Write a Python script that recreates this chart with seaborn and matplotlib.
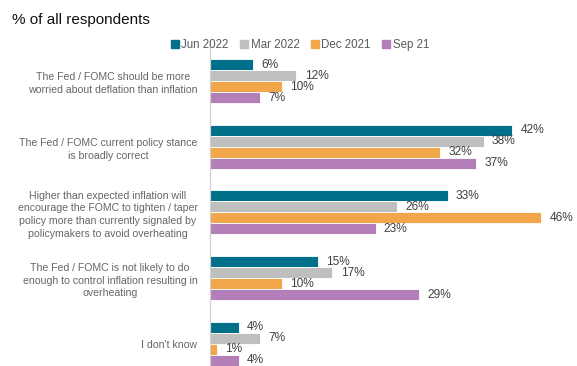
import pandas as pd
import matplotlib
matplotlib.use('Agg')
import matplotlib.pyplot as plt
import seaborn as sns

# Survey answers and share of respondents (%)
statements = [
    'The Fed / FOMC should be more\nworried about deflation than inflation',
    'The Fed / FOMC current policy stance\nis broadly correct',
    'Higher than expected inflation will\nencourage the FOMC to tighten / taper\npolicy more than currently signaled by\npolicymakers to avoid overheating',
    'The Fed / FOMC is not likely to do\nenough to control inflation resulting in\noverheating',
    "I don't know",
]
surveys = ['Jun 2022', 'Mar 2022', 'Dec 2021', 'Sep 21']
jun_2022 = [6, 42, 33, 15, 4]
mar_2022 = [12, 38, 26, 17, 7]
dec_2021 = [10, 32, 46, 10, 1]
sep_21 = [7, 37, 23, 29, 4]
colors = ['#006F89', '#BFBFBF', '#F2A64A', '#B47EB8']

rows = []
for survey, vals in zip(surveys, [jun_2022, mar_2022, dec_2021, sep_21]):
    for s, v in zip(statements, vals):
        rows.append({'statement': s, 'survey': survey, 'value': v})
df = pd.DataFrame(rows)

sns.set_style('white')
plt.rcParams['font.family'] = ['Liberation Sans', 'DejaVu Sans']

fig = plt.figure(figsize=(5.77, 3.66), dpi=100)
ax = fig.add_axes([210 / 577, 0, 360 / 577, 324 / 366])

sns.barplot(data=df, y='statement', x='value', hue='survey', orient='h',
            palette=colors, saturation=1, width=0.67, edgecolor='white',
            linewidth=0.6, order=statements, hue_order=surveys, ax=ax,
            legend=False)

for cont in ax.containers:
    ax.bar_label(cont, fmt='%g%%', padding=6, fontsize=8.6, color='#404040')

ax.set_xlim(0, 50)
ax.set_ylim(4.338, -0.594)
ax.set_xlabel('')
ax.set_ylabel('')
ax.set_xticks([])
for side in ['top', 'right', 'bottom']:
    ax.spines[side].set_visible(False)
ax.spines['left'].set_color('#D0D0D0')
ax.spines['left'].set_linewidth(0.9)
ax.tick_params(axis='y', length=0, pad=9, labelsize=7.6, labelcolor='#666666')
for lab in ax.get_yticklabels():
    lab.set_multialignment('center')
    lab.set_linespacing(1.35)

fig.text(12 / 577, 1 - 20 / 366, '% of all respondents', fontsize=11,
         color='#111111', va='center', ha='left')

handles = [plt.Rectangle((0, 0), 1, 1, color=c) for c in colors]
fig.legend(handles, surveys, loc='center', ncol=4,
           bbox_to_anchor=(300 / 577, 1 - 45 / 366), frameon=False,
           fontsize=8.3, labelcolor='#595959', handlelength=0.7,
           handleheight=0.7, handletextpad=0.2, columnspacing=1.0)

fig.savefig('out.png', dpi=100)
